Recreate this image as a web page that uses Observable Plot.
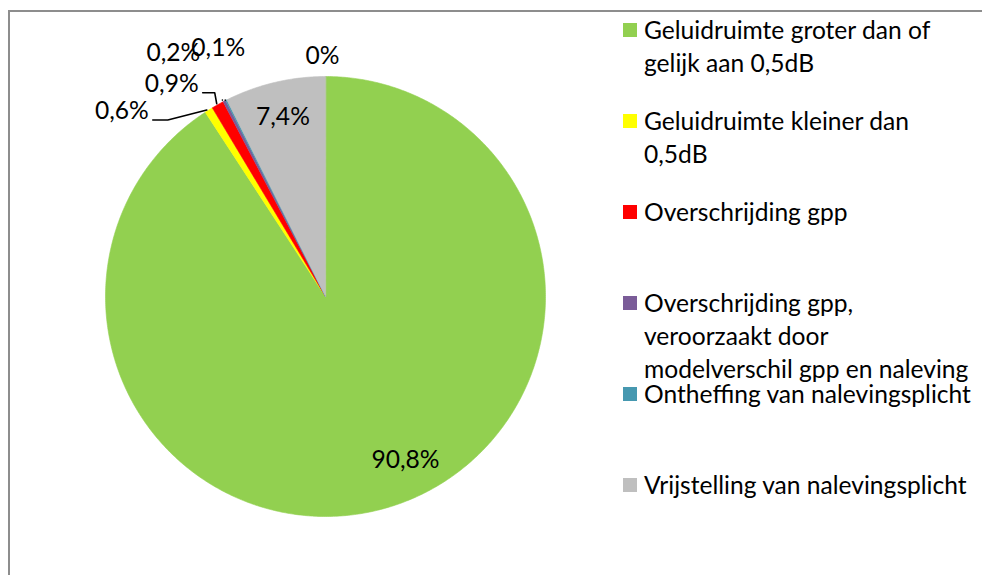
<!DOCTYPE html>
<html><head><meta charset="utf-8">
<script src="https://cdn.jsdelivr.net/npm/d3@7"></script>
<script src="https://cdn.jsdelivr.net/npm/@observablehq/plot@0.6"></script>
<style>
html,body{margin:0;padding:0;background:#fff;}
#wrap{position:relative;width:982px;height:575px;overflow:hidden;font-family:Lato,"Open Sans",sans-serif;}
#frame{position:absolute;left:8px;top:10px;width:1200px;height:1200px;border-left:2px solid #8d8d8d;border-top:2px solid #8d8d8d;}
#chart{position:absolute;left:0;top:0;}
#legend{position:absolute;left:623px;top:13px;}
.item{position:relative;height:91px;}
.sw{position:absolute;left:0;top:10px;width:14px;height:14px;}
.lbl{position:absolute;left:21px;top:0;font-size:24.6px;line-height:33px;white-space:nowrap;color:#000;}
</style>
</head><body>
<div id="wrap"><div id="frame"></div><div id="chart"></div><div id="legend"></div></div>
<script>
// ---- data ----
const categories = [
  "Geluidruimte groter dan of gelijk aan 0,5dB",
  "Geluidruimte kleiner dan 0,5dB",
  "Overschrijding gpp",
  "Overschrijding gpp, veroorzaakt door modelverschil gpp en naleving",
  "Ontheffing van nalevingsplicht",
  "Vrijstelling van nalevingsplicht",
  ""
];
const values = [90.8, 0.6, 0.9, 0.2, 0.1, 7.4, 0];
const valueLabels = ["90,8%", "0,6%", "0,9%", "0,2%", "0,1%", "7,4%", "0%"];
const legendLines = [
  ["Geluidruimte groter dan of", "gelijk aan 0,5dB"],
  ["Geluidruimte kleiner dan", "0,5dB"],
  ["Overschrijding gpp"],
  ["Overschrijding gpp,", "veroorzaakt door", "modelverschil gpp en naleving"],
  ["Ontheffing van nalevingsplicht"],
  ["Vrijstelling van nalevingsplicht"]
];
const palette = ["#92D050", "#FFFF00", "#FF0000", "#7A5C98", "#4698B0", "#BFBFBF"];

// ---- layout (label placement relative to slice) ----
const labelLayout = [
  {anchor: "mid", r: 0.83, dx: 28, dy: -11},
  {anchor: "edge", dx: -87, dy: 1, leader: [[-56, 10], [-41, 10], [-2, 0]]},
  {anchor: "edge", dx: -46, dy: -21, leader: [[-15, -12], [-3, -12], [-1, -1]]},
  {anchor: "edge", dx: -51, dy: -48, leader: [[-16, -39], [-6, -39], [-2, -1]]},
  {anchor: "edge", dx: -8, dy: -52, leader: [[-3, -38], [-1, 0]]},
  {anchor: "mid", r: 0.84, dx: 0, dy: 0},
  {anchor: "edge", dx: -3, dy: -20}
];

const W = 982, H = 575, cx = 325, cy = 296, R = 220;
const FONT = "Lato";
const FS = 24.6;

const total = d3.sum(values);
const ends = Array.from(d3.cumsum(values), v => v / total);
const slices = values.map((v, i) => ({i, cat: categories[i], a0: i ? ends[i - 1] : 0, a1: ends[i], label: valueLabels[i]}));
const pt = (f, r = 1) => { const a = 2 * Math.PI * f; return [r * Math.sin(a), r * Math.cos(a)]; };

const features = slices.filter(s => s.a1 > s.a0).map(s => {
  const n = Math.max(2, Math.ceil((s.a1 - s.a0) * 720));
  const ring = [[0, 0]];
  for (let k = 0; k <= n; k++) ring.push(pt(s.a0 + (s.a1 - s.a0) * k / n));
  ring.push([0, 0]);
  return {type: "Feature", properties: {cat: s.cat}, geometry: {type: "Polygon", coordinates: [ring]}};
});
const circleRing = d3.range(0, 361).map(d => pt(d / 360));
circleRing.push(circleRing[0]);
const domainCircle = {type: "Polygon", coordinates: [circleRing]};

const textMarks = [];
const leaders = [];
slices.forEach((s, i) => {
  const L = labelLayout[i];
  const mid = (s.a0 + s.a1) / 2;
  const [ax, ay] = L.anchor === "mid" ? pt(mid, L.r) : pt(mid, 1);
  textMarks.push(Plot.text([s], {x: () => ax, y: () => ay, text: "label", dx: L.dx, dy: L.dy,
    fontSize: FS, fontFamily: FONT, fill: "#000"}));
  if (L.leader) {
    L.leader.forEach(([ox, oy]) => leaders.push({id: i, x: ax + ox / R, y: ay - oy / R}));
  }
});

const chart = Plot.plot({
  width: W, height: H,
  marginLeft: cx - R, marginRight: W - cx - R, marginTop: cy - R, marginBottom: H - cy - R,
  projection: {type: "reflect-y", domain: domainCircle},
  color: {domain: categories.filter(Boolean), range: palette},
  style: {background: "transparent", overflow: "visible"},
  marks: [
    Plot.geo(features, {fill: d => d.properties.cat, stroke: d => d.properties.cat, strokeWidth: 0.6}),
    Plot.line(leaders, {x: "x", y: "y", z: "id", stroke: "#000", strokeWidth: 1.6, curve: "linear"}),
    ...textMarks
  ]
});
document.getElementById("chart").appendChild(chart);

const legend = document.getElementById("legend");
categories.filter(Boolean).forEach((c, i) => {
  const item = document.createElement("div");
  item.className = "item";
  const sw = document.createElement("div");
  sw.className = "sw";
  sw.style.background = palette[i];
  const lbl = document.createElement("div");
  lbl.className = "lbl";
  lbl.innerHTML = legendLines[i].join("<br>");
  item.appendChild(sw); item.appendChild(lbl);
  legend.appendChild(item);
});
</script>
</body></html>
